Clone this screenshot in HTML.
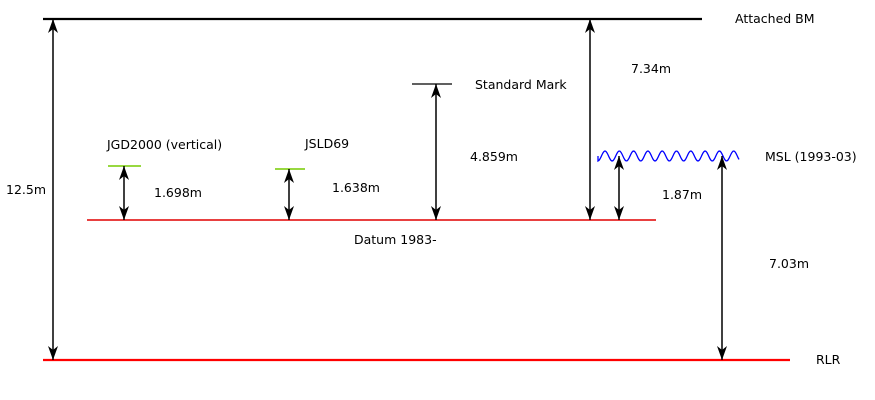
<!DOCTYPE html>
<html><head><meta charset="utf-8">
<style>
html,body{margin:0;padding:0;background:#fff;}
svg{display:block;}
text{font-family:"DejaVu Sans","Liberation Sans",sans-serif;font-size:12.5px;fill:#000;}
</style></head>
<body>
<svg id="d" width="875" height="400" viewBox="0 0 875 400">
<defs>
<marker id="ah" viewBox="0 0 14 10" refX="14" refY="5" markerWidth="14" markerHeight="10" markerUnits="userSpaceOnUse" orient="auto-start-reverse">
<path d="M0,0 L14,5 L0,10 L4,5 Z" fill="#000"/>
</marker>
</defs>
<line x1="43" y1="19" x2="702" y2="19" stroke="#000" stroke-width="2.2"/>
<line x1="43" y1="360" x2="790" y2="360" stroke="#ff0000" stroke-width="2.2"/>
<line x1="87" y1="220" x2="656" y2="220" stroke="#e00000" stroke-width="1.4"/>
<line x1="108" y1="166" x2="141" y2="166" stroke="#77cc00" stroke-width="1.4"/>
<line x1="275" y1="169" x2="305" y2="169" stroke="#77cc00" stroke-width="1.4"/>
<line x1="412" y1="84" x2="452" y2="84" stroke="#000" stroke-width="1.2"/>
<path id="wave" fill="none" stroke="#0000ff" stroke-width="1.3"/>
<g id="arrows"></g>
<text x="735" y="23">Attached BM</text>
<text x="631" y="73">7.34m</text>
<text x="475" y="89">Standard Mark</text>
<text x="107" y="149">JGD2000 (vertical)</text>
<text x="305" y="148">JSLD69</text>
<text x="470" y="161">4.859m</text>
<text x="765" y="161">MSL (1993-03)</text>
<text x="6" y="194">12.5m</text>
<text x="154" y="197">1.698m</text>
<text x="332" y="192">1.638m</text>
<text x="662" y="199">1.87m</text>
<text x="354" y="244">Datum 1983-</text>
<text x="769" y="268">7.03m</text>
<text x="816" y="364">RLR</text>
</svg>
<script>
const arrowX=[53,124,289,436,590,619,722];
const arrowTop=[19,166,169,84,19,156,156];
const arrowBottom=[360,220,220,220,220,220,360];
const g=document.getElementById('arrows');
const NS='http://www.w3.org/2000/svg';
for(let i=0;i<arrowX.length;i++){
  const l=document.createElementNS(NS,'line');
  l.setAttribute('x1',arrowX[i]);l.setAttribute('x2',arrowX[i]);
  l.setAttribute('y1',arrowTop[i]);l.setAttribute('y2',arrowBottom[i]);
  l.setAttribute('stroke','#000');l.setAttribute('stroke-width','1.5');
  l.setAttribute('marker-end','url(#ah)');
  l.setAttribute('marker-start','url(#ah)');
  
  
  g.appendChild(l);
}
let d='M598,156';
const period=14.3;
for(let x=598;x<=739;x+=1){
  const y=156-5*Math.cos((x-605)/period*2*Math.PI);
  d+=' L'+x+','+y.toFixed(2);
}
document.getElementById('wave').setAttribute('d',d);
</script>
</body></html>
